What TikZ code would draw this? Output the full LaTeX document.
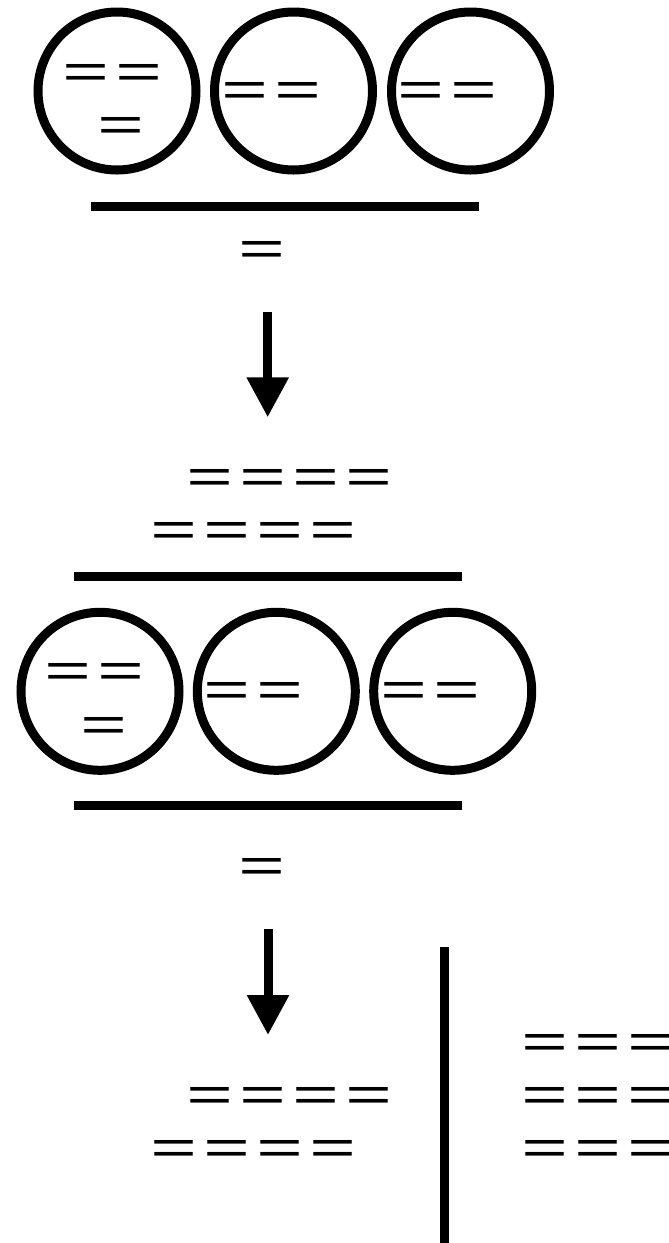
\documentclass[tikz,border=0pt]{standalone}
\usepackage{fontspec}
\newfontfamily\cjk{Noto Sans CJK SC}
\usetikzlibrary{arrows.meta}
\begin{document}
\begin{tikzpicture}[x=1pt,y=-1pt,
  ring/.style={circle, draw, line width=9pt, minimum size=158pt, inner sep=0pt},
  rule/.style={line width=9pt},
  eqtext/.style={anchor=base west, inner sep=0pt, xshift=-8.5pt, yshift=-20pt,
                 font=\cjk\fontsize{53}{53}\selectfont},
  flow/.style={line width=9pt, -{Triangle[length=40pt,width=40pt]}}]
\useasboundingbox (0,0) rectangle (669,1243);
% ---- top group
\node[ring] (a1) at (117,91) {};
\node[ring] (a2) at (293.5,91) {};
\node[ring] (a3) at (470.5,91) {};
\node[eqtext] (a1t1) at (68,72.5) {＝＝};
\node[eqtext] (a1t2) at (103,125) {＝};
\node[eqtext] (a2t) at (227,90.5) {＝＝};
\node[eqtext] (a3t) at (403,90.5) {＝＝};
\coordinate (r1l) at (91,206); \coordinate (r1r) at (479,206);
\draw[rule] (r1l) -- (r1r);
\node[eqtext] (q1) at (244,249.5) {＝};
\coordinate (f1s) at (267.7,312); \coordinate (f1e) at (267.7,417.3);
\draw[flow] (f1s) -- (f1e);
% ---- middle group
\node[eqtext] (m1) at (191.7,477.7) {＝＝＝＝};
\node[eqtext] (m2) at (156,530.8) {＝＝＝＝};
\coordinate (r2l) at (74,576); \coordinate (r2r) at (462,576);
\draw[rule] (r2l) -- (r2r);
\node[ring] (b1) at (100,691.3) {};
\node[ring] (b2) at (276.3,691.3) {};
\node[ring] (b3) at (452.7,691.3) {};
\node[eqtext] (b1t1) at (50,671.8) {＝＝};
\node[eqtext] (b1t2) at (85.3,725.2) {＝};
\node[eqtext] (b2t) at (209,690) {＝＝};
\node[eqtext] (b3t) at (385.7,690) {＝＝};
\coordinate (r3l) at (74,805.5); \coordinate (r3r) at (462,805.5);
\draw[rule] (r3l) -- (r3r);
\node[eqtext] (q2) at (244,866) {＝};
\coordinate (f2s) at (268,929.3); \coordinate (f2e) at (268,1035);
\draw[flow] (f2s) -- (f2e);
% ---- bottom group
\node[eqtext] (n1) at (191.8,1095.5) {＝＝＝＝};
\node[eqtext] (n2) at (156.2,1148) {＝＝＝＝};
\coordinate (vt) at (444,946.7); \coordinate (vb) at (444,1243);
\draw[rule] (vt) -- (vb);
\node[eqtext] (p1) at (526.7,1042.5) {＝＝＝};
\node[eqtext] (p2) at (526.7,1095.8) {＝＝＝};
\node[eqtext] (p3) at (526.7,1148.5) {＝＝＝};
\end{tikzpicture}
\end{document}
